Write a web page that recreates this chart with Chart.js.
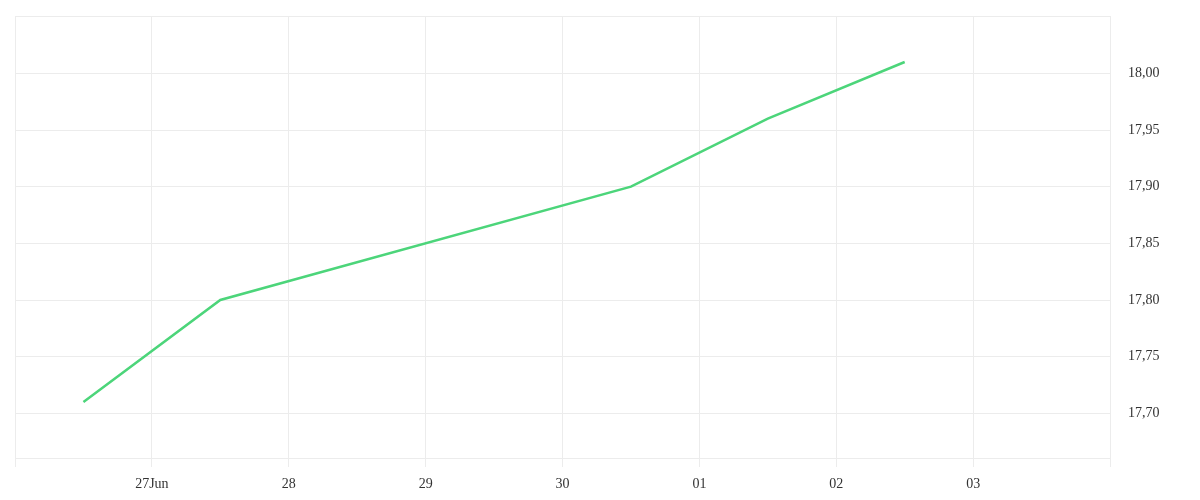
<!DOCTYPE html>
<html>
<head>
<meta charset="utf-8">
<script src="https://cdn.jsdelivr.net/npm/chart.js@4"></script>
<style>
  html, body { margin: 0; padding: 0; background: #fff; }
  #wrap { width: 1200px; height: 500px; }
</style>
</head>
<body>
<div id="wrap"><canvas id="chart" width="1200" height="500"></canvas></div>
<script>
// days counted from 26 Jun 00:00; points sit at midday
const dayPos = [0.5, 1.5, 2.5, 3.5, 4.5, 5.5, 6.5];
const rates = [17.71, 17.80, null, null, 17.90, 17.96, 18.01];
const dayLabels = ["", "27Jun", "28", "29", "30", "01", "02", "03", ""];
const yMin = 17.6606;
const yMax = 18.0506;

const points = dayPos.map((d, i) => ({ x: d, y: rates[i] }));
const tickFont = { family: "'Liberation Serif', serif", size: 14 };

new Chart(document.getElementById("chart").getContext("2d"), {
  type: "line",
  data: {
    datasets: [
      {
        data: points,
        borderColor: "#4cd57a",
        borderWidth: 2.5,
        pointRadius: 0,
        tension: 0,
        spanGaps: true,
        fill: false,
      },
    ],
  },
  options: {
    responsive: false,
    animation: false,
    layout: { padding: { left: 15, top: 16, right: 0, bottom: 0 } },
    plugins: { legend: { display: false }, tooltip: { enabled: false } },
    scales: {
      x: {
        type: "linear",
        min: 0,
        max: 8,
        border: { display: false },
        grid: { color: "#ececec", tickLength: 9, drawTicks: true },
        ticks: {
          stepSize: 1,
          autoSkip: false,
          maxRotation: 0,
          color: "#333",
          font: tickFont,
          padding: 9,
          callback: (v) => dayLabels[v] ?? "",
        },
        afterFit: (s) => {
          s.height = 42;
          s.paddingLeft = 0;
          s.paddingRight = 0;
        },
      },
      y: {
        position: "right",
        min: yMin,
        max: yMax,
        border: { display: false },
        grid: { color: "#ececec", drawTicks: false },
        ticks: {
          stepSize: 0.05,
          color: "#333",
          font: tickFont,
          padding: 18,
          callback: (v) => {
            const r = Math.round(v * 20) / 20;
            if (Math.abs(r - v) > 0.0005) return "";
            return r.toFixed(2).replace(".", ",");
          },
        },
        afterFit: (s) => {
          s.width = 90;
          s.paddingTop = 0;
          s.paddingBottom = 0;
        },
      },
    },
  },
});
</script>
</body>
</html>
